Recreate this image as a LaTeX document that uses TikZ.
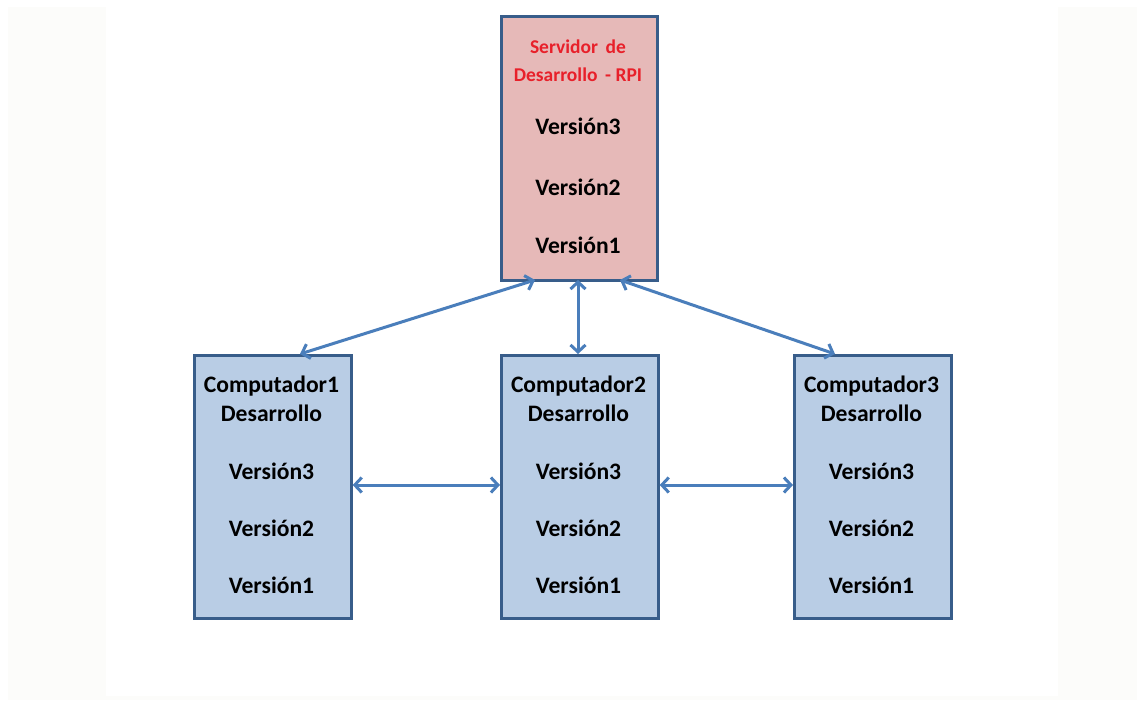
\documentclass[tikz,border=0pt]{standalone}
\usepackage{fontspec}
\setmainfont{Carlito}
\usetikzlibrary{arrows.meta}
\definecolor{pagetint}{HTML}{FCFCFA}
\definecolor{edgeblue}{HTML}{385D8A}
\definecolor{linkblue}{HTML}{4A7EBB}
\definecolor{serverfill}{HTML}{E6B9B8}
\definecolor{pcfill}{HTML}{B9CDE5}
\definecolor{titlered}{HTML}{E8202A}
\begin{document}
\begin{tikzpicture}[x=1pt,y=-1pt,
  box/.style={draw=edgeblue,line width=2.7pt,inner sep=0pt,anchor=north west},
  label/.style={font=\bfseries\fontsize{23.6}{28}\selectfont,text=black},
  redlabel/.style={font=\bfseries\fontsize{19.5}{23}\selectfont,text=titlered},
  link/.style={draw=linkblue,line width=3pt,{Straight Barb[length=7pt,width=15pt]}-{Straight Barb[length=7pt,width=15pt]}}]
  % page and its faint side panels
  \useasboundingbox (0,0) rectangle (1145,707);
  \fill[pagetint] (8,7) rectangle (1137,700);
  \fill[white] (106,0) rectangle (1058,696);

  % server
  \node[box,fill=serverfill,minimum width=156pt,minimum height=264pt] (srv) at (500,15) {};
  \node[redlabel] (s1) at (578,47) {Servidor\, de};
  \node[redlabel] (s2) at (578,75) {Desarrollo\, - RPI};
  \node[label] (s3) at (578,126) {Versión3};
  \node[label] (s4) at (578,187) {Versión2};
  \node[label] (s5) at (578,245) {Versión1};

  % development computers
  \foreach \n/\xl in {1/193,2/500,3/793}{
    \node[box,fill=pcfill,minimum width=157pt,minimum height=263pt] (pc\n) at (\xl,354) {};
    \node[label] (pc\n a) at (\xl+78.5,386) {Computador\n};
    \node[label] (pc\n b) at (\xl+78.5,413) {Desarrollo};
    \node[label] (pc\n c) at (\xl+78.5,471) {Versión3};
    \node[label] (pc\n d) at (\xl+78.5,528) {Versión2};
    \node[label] (pc\n e) at (\xl+78.5,585) {Versión1};
  }

  % links
  \coordinate (a1) at (535,280);
  \coordinate (b1) at (300,354);
  \coordinate (a2) at (578,280);
  \coordinate (b2) at (578,354);
  \coordinate (a3) at (620,280);
  \coordinate (b3) at (835,354);
  \draw[link] (a1) -- (b1);
  \draw[link] (a2) -- (b2);
  \draw[link] (a3) -- (b3);
  \draw[link] (pc1.east |- 0,485) -- (pc2.west |- 0,485);
  \draw[link] (pc2.east |- 0,485) -- (pc3.west |- 0,485);
\end{tikzpicture}
\end{document}
